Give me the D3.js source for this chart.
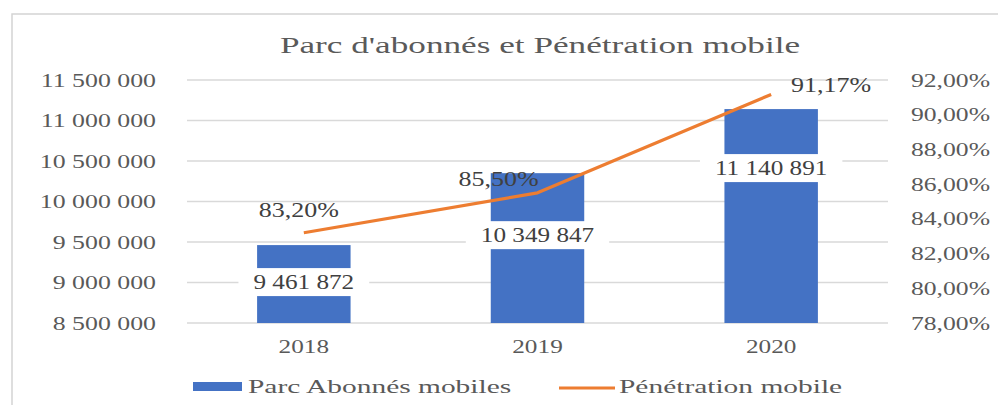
<!DOCTYPE html>
<html>
<head>
<meta charset="utf-8">
<script src="https://cdn.jsdelivr.net/npm/d3@7"></script>
<style>
  body { margin: 0; background: #fff; }
  text { font-family: "Liberation Serif", serif; }
</style>
</head>
<body>
<div id="chart"></div>
<script>
const years = ["2018", "2019", "2020"];
const abonnes = [9461872, 10349847, 11140891];
const penetration = [0.832, 0.855, 0.9117];
const leftTicks = [8500000, 9000000, 9500000, 10000000, 10500000, 11000000, 11500000];
const rightTicks = [0.78, 0.80, 0.82, 0.84, 0.86, 0.88, 0.90, 0.92];
const title = "Parc d'abonnés et Pénétration mobile";
const seriesNames = ["Parc Abonnés mobiles", "Pénétration mobile"];

// label placement (the labels were moved by hand in the original)
const barLabelDy = [44, 69, 66];
const pctLabelShift = [[-5, -16], [-39, -7], [60, -2]];

const width = 998, height = 405;
const plot = { left: 187, right: 888, top: 80, bottom: 323 };

const loc = d3.formatLocale({ decimal: ",", thousands: "\u00a0", grouping: [3], currency: ["", ""] });
const fmtInt = loc.format(",d");
const fmtPct = loc.format(".2%");

const svg = d3.select("#chart").append("svg")
  .attr("width", width)
  .attr("height", height);

svg.append("rect").attr("width", width).attr("height", height).attr("fill", "#fff");

// stretched text, the source image is wider than it is tall
function txt(g, x, y, s, size, sx, anchor, color) {
  return g.append("text")
    .attr("transform", `translate(${x},${y}) scale(${sx},1)`)
    .attr("text-anchor", anchor)
    .attr("font-size", size)
    .attr("fill", color)
    .text(s);
}

svg.append("path")
  .attr("d", `M12,${height} V14 H${width}`)
  .attr("fill", "none")
  .attr("stroke", "#d4d4d4")
  .attr("stroke-width", 1.5);

const x = d3.scaleBand().domain(years).range([plot.left, plot.right])
  .paddingInner(0.6).paddingOuter(0.3);
const yL = d3.scaleLinear().domain([8500000, 11500000]).range([plot.bottom, plot.top]);
const yR = d3.scaleLinear().domain([0.78, 0.92]).range([plot.bottom, plot.top]);

txt(svg, 540, 53, title, 23, 1.53, "middle", "#5a5a5a");

// grid
svg.append("g").selectAll("line").data(leftTicks).join("line")
  .attr("x1", plot.left).attr("x2", plot.right)
  .attr("y1", d => yL(d)).attr("y2", d => yL(d))
  .attr("stroke", "#d9d9d9").attr("stroke-width", 1.4);

// axes labels
const axL = svg.append("g");
leftTicks.forEach(t => txt(axL, 156, yL(t) + 6.5, fmtInt(t), 19, 1.36, "end", "#595959"));
const axR = svg.append("g");
rightTicks.forEach(t => txt(axR, 990, yR(t) + 6.5, fmtPct(t), 19, 1.35, "end", "#595959"));
const axX = svg.append("g");
years.forEach(yr => txt(axX, x(yr) + x.bandwidth() / 2, 353, yr, 19, 1.33, "middle", "#595959"));

// bars
svg.append("g").selectAll("rect").data(years).join("rect")
  .attr("x", d => x(d))
  .attr("width", x.bandwidth())
  .attr("y", (d, i) => yL(abonnes[i]))
  .attr("height", (d, i) => plot.bottom - yL(abonnes[i]))
  .attr("fill", "#4472c4");

// bar value labels with white boxes
const bl = svg.append("g");
years.forEach((yr, i) => {
  const cx = x(yr) + x.bandwidth() / 2;
  const by = yL(abonnes[i]) + barLabelDy[i];
  const box = bl.append("rect").attr("fill", "#fff");
  const t = txt(bl, cx, by, fmtInt(abonnes[i]), 21, 1.2, "middle", "#404040");
  const w = t.node().getComputedTextLength() * 1.2 + 30;
  box.attr("x", cx - w / 2).attr("y", by - 21).attr("width", w).attr("height", 28);
});

// line
const line = d3.line()
  .x((d, i) => x(years[i]) + x.bandwidth() / 2)
  .y(d => yR(d));
svg.append("path")
  .datum(penetration)
  .attr("d", line)
  .attr("fill", "none")
  .attr("stroke", "#ed7d31")
  .attr("stroke-width", 3.2)
  .attr("stroke-linejoin", "round");

const pl = svg.append("g");
penetration.forEach((p, i) => {
  const cx = x(years[i]) + x.bandwidth() / 2;
  txt(pl, cx + pctLabelShift[i][0], yR(p) + pctLabelShift[i][1], fmtPct(p), 20, 1.3, "middle", "#404040");
});

// legend
const lg = svg.append("g");
lg.append("rect").attr("x", 193).attr("y", 382).attr("width", 49).attr("height", 9).attr("fill", "#4472c4");
txt(lg, 248, 393, seriesNames[0], 19, 1.55, "start", "#595959");
lg.append("line").attr("x1", 559).attr("x2", 615).attr("y1", 388).attr("y2", 388)
  .attr("stroke", "#ed7d31").attr("stroke-width", 3.2);
txt(lg, 619, 393, seriesNames[1], 19, 1.55, "start", "#595959");
</script>
</body>
</html>
